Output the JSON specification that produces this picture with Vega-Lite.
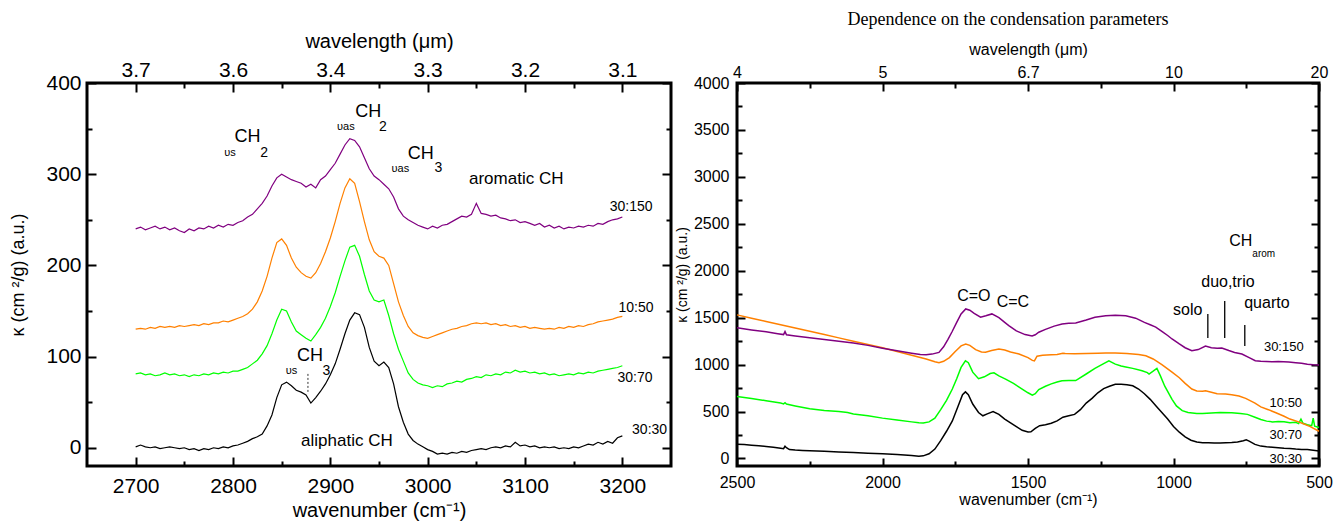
{
"$schema": "https://vega.github.io/schema/vega-lite/v6.json",
"padding": {"left": 8, "top": 9, "right": 0, "bottom": 0},
"background": "white",
"spacing": 66,
"bounds": "flush",
"config": {
  "view": {"stroke": "black", "strokeWidth": 3},
  "axis": {"domain": false, "grid": false, "tickColor": "black", "tickWidth": 2, "labelColor": "black", "titleColor": "black", "labelFont": "Liberation Sans", "titleFont": "Liberation Sans", "titleFontWeight": "normal", "labelFlush": false, "labelOverlap": false, "format": "d"},
  "text": {"font": "Liberation Sans", "color": "black"}
},
"datasets": {
"left": [
{"s":"30:30","x":2700,"y":1},{"s":"30:30","x":2705,"y":3},{"s":"30:30","x":2710,"y":1},{"s":"30:30","x":2715,"y":0},{"s":"30:30","x":2720,"y":1},{"s":"30:30","x":2725,"y":-1},{"s":"30:30","x":2730,"y":0},{"s":"30:30","x":2735,"y":1},{"s":"30:30","x":2740,"y":0},{"s":"30:30","x":2745,"y":-1},{"s":"30:30","x":2750,"y":0},{"s":"30:30","x":2755,"y":-2},{"s":"30:30","x":2760,"y":-1},{"s":"30:30","x":2765,"y":-3},{"s":"30:30","x":2770,"y":-1},{"s":"30:30","x":2775,"y":-2},{"s":"30:30","x":2780,"y":0},{"s":"30:30","x":2785,"y":-1},{"s":"30:30","x":2790,"y":1},{"s":"30:30","x":2795,"y":0},{"s":"30:30","x":2800,"y":2},{"s":"30:30","x":2805,"y":3},{"s":"30:30","x":2810,"y":5},{"s":"30:30","x":2815,"y":7},{"s":"30:30","x":2820,"y":10},{"s":"30:30","x":2825,"y":12},{"s":"30:30","x":2830,"y":15},{"s":"30:30","x":2835,"y":24},{"s":"30:30","x":2840,"y":36},{"s":"30:30","x":2845,"y":55},{"s":"30:30","x":2850,"y":69},{"s":"30:30","x":2855,"y":72},{"s":"30:30","x":2860,"y":68},{"s":"30:30","x":2865,"y":63},{"s":"30:30","x":2870,"y":61},{"s":"30:30","x":2875,"y":58},{"s":"30:30","x":2880,"y":49},{"s":"30:30","x":2885,"y":55},{"s":"30:30","x":2890,"y":62},{"s":"30:30","x":2895,"y":70},{"s":"30:30","x":2900,"y":80},{"s":"30:30","x":2905,"y":92},{"s":"30:30","x":2910,"y":108},{"s":"30:30","x":2915,"y":125},{"s":"30:30","x":2920,"y":140},{"s":"30:30","x":2925,"y":148},{"s":"30:30","x":2930,"y":146},{"s":"30:30","x":2935,"y":132},{"s":"30:30","x":2940,"y":110},{"s":"30:30","x":2945,"y":95},{"s":"30:30","x":2950,"y":90},{"s":"30:30","x":2955,"y":94},{"s":"30:30","x":2960,"y":88},{"s":"30:30","x":2965,"y":70},{"s":"30:30","x":2970,"y":45},{"s":"30:30","x":2975,"y":28},{"s":"30:30","x":2980,"y":15},{"s":"30:30","x":2985,"y":8},{"s":"30:30","x":2990,"y":4},{"s":"30:30","x":2995,"y":1},{"s":"30:30","x":3000,"y":-2},{"s":"30:30","x":3005,"y":-4},{"s":"30:30","x":3010,"y":-7},{"s":"30:30","x":3015,"y":-6},{"s":"30:30","x":3020,"y":-7},{"s":"30:30","x":3025,"y":-5},{"s":"30:30","x":3030,"y":-6},{"s":"30:30","x":3035,"y":-4},{"s":"30:30","x":3040,"y":-5},{"s":"30:30","x":3045,"y":-3},{"s":"30:30","x":3050,"y":-2},{"s":"30:30","x":3055,"y":-1},{"s":"30:30","x":3060,"y":-2},{"s":"30:30","x":3065,"y":0},{"s":"30:30","x":3070,"y":1},{"s":"30:30","x":3075,"y":0},{"s":"30:30","x":3080,"y":2},{"s":"30:30","x":3085,"y":1},{"s":"30:30","x":3090,"y":6},{"s":"30:30","x":3095,"y":2},{"s":"30:30","x":3100,"y":3},{"s":"30:30","x":3105,"y":1},{"s":"30:30","x":3110,"y":2},{"s":"30:30","x":3115,"y":0},{"s":"30:30","x":3120,"y":1},{"s":"30:30","x":3125,"y":0},{"s":"30:30","x":3130,"y":1},{"s":"30:30","x":3135,"y":-1},{"s":"30:30","x":3140,"y":0},{"s":"30:30","x":3145,"y":-1},{"s":"30:30","x":3150,"y":1},{"s":"30:30","x":3155,"y":0},{"s":"30:30","x":3160,"y":2},{"s":"30:30","x":3165,"y":4},{"s":"30:30","x":3170,"y":3},{"s":"30:30","x":3175,"y":6},{"s":"30:30","x":3180,"y":4},{"s":"30:30","x":3185,"y":7},{"s":"30:30","x":3190,"y":5},{"s":"30:30","x":3195,"y":11},{"s":"30:30","x":3200,"y":13},
{"s":"30:70","x":2700,"y":81},{"s":"30:70","x":2705,"y":82},{"s":"30:70","x":2710,"y":80},{"s":"30:70","x":2715,"y":81},{"s":"30:70","x":2720,"y":79},{"s":"30:70","x":2725,"y":80},{"s":"30:70","x":2730,"y":82},{"s":"30:70","x":2735,"y":80},{"s":"30:70","x":2740,"y":81},{"s":"30:70","x":2745,"y":79},{"s":"30:70","x":2750,"y":80},{"s":"30:70","x":2755,"y":78},{"s":"30:70","x":2760,"y":80},{"s":"30:70","x":2765,"y":79},{"s":"30:70","x":2770,"y":81},{"s":"30:70","x":2775,"y":80},{"s":"30:70","x":2780,"y":82},{"s":"30:70","x":2785,"y":81},{"s":"30:70","x":2790,"y":83},{"s":"30:70","x":2795,"y":82},{"s":"30:70","x":2800,"y":84},{"s":"30:70","x":2805,"y":84},{"s":"30:70","x":2810,"y":86},{"s":"30:70","x":2815,"y":88},{"s":"30:70","x":2820,"y":92},{"s":"30:70","x":2825,"y":96},{"s":"30:70","x":2830,"y":103},{"s":"30:70","x":2835,"y":112},{"s":"30:70","x":2840,"y":125},{"s":"30:70","x":2845,"y":140},{"s":"30:70","x":2850,"y":152},{"s":"30:70","x":2855,"y":150},{"s":"30:70","x":2860,"y":138},{"s":"30:70","x":2865,"y":128},{"s":"30:70","x":2870,"y":124},{"s":"30:70","x":2875,"y":120},{"s":"30:70","x":2880,"y":117},{"s":"30:70","x":2885,"y":124},{"s":"30:70","x":2890,"y":132},{"s":"30:70","x":2895,"y":142},{"s":"30:70","x":2900,"y":155},{"s":"30:70","x":2905,"y":170},{"s":"30:70","x":2910,"y":188},{"s":"30:70","x":2915,"y":205},{"s":"30:70","x":2920,"y":220},{"s":"30:70","x":2925,"y":222},{"s":"30:70","x":2930,"y":210},{"s":"30:70","x":2935,"y":190},{"s":"30:70","x":2940,"y":172},{"s":"30:70","x":2945,"y":162},{"s":"30:70","x":2950,"y":160},{"s":"30:70","x":2955,"y":162},{"s":"30:70","x":2960,"y":145},{"s":"30:70","x":2965,"y":125},{"s":"30:70","x":2970,"y":108},{"s":"30:70","x":2975,"y":95},{"s":"30:70","x":2980,"y":82},{"s":"30:70","x":2985,"y":75},{"s":"30:70","x":2990,"y":71},{"s":"30:70","x":2995,"y":69},{"s":"30:70","x":3000,"y":68},{"s":"30:70","x":3005,"y":66},{"s":"30:70","x":3010,"y":68},{"s":"30:70","x":3015,"y":67},{"s":"30:70","x":3020,"y":70},{"s":"30:70","x":3025,"y":71},{"s":"30:70","x":3030,"y":73},{"s":"30:70","x":3035,"y":72},{"s":"30:70","x":3040,"y":75},{"s":"30:70","x":3045,"y":76},{"s":"30:70","x":3050,"y":78},{"s":"30:70","x":3055,"y":77},{"s":"30:70","x":3060,"y":80},{"s":"30:70","x":3065,"y":79},{"s":"30:70","x":3070,"y":81},{"s":"30:70","x":3075,"y":80},{"s":"30:70","x":3080,"y":83},{"s":"30:70","x":3085,"y":82},{"s":"30:70","x":3090,"y":85},{"s":"30:70","x":3095,"y":83},{"s":"30:70","x":3100,"y":84},{"s":"30:70","x":3105,"y":82},{"s":"30:70","x":3110,"y":83},{"s":"30:70","x":3115,"y":81},{"s":"30:70","x":3120,"y":82},{"s":"30:70","x":3125,"y":80},{"s":"30:70","x":3130,"y":81},{"s":"30:70","x":3135,"y":79},{"s":"30:70","x":3140,"y":80},{"s":"30:70","x":3145,"y":81},{"s":"30:70","x":3150,"y":80},{"s":"30:70","x":3155,"y":82},{"s":"30:70","x":3160,"y":81},{"s":"30:70","x":3165,"y":83},{"s":"30:70","x":3170,"y":82},{"s":"30:70","x":3175,"y":84},{"s":"30:70","x":3180,"y":85},{"s":"30:70","x":3185,"y":86},{"s":"30:70","x":3190,"y":87},{"s":"30:70","x":3195,"y":88},{"s":"30:70","x":3200,"y":90},
{"s":"10:50","x":2700,"y":130},{"s":"10:50","x":2705,"y":131},{"s":"10:50","x":2710,"y":130},{"s":"10:50","x":2715,"y":132},{"s":"10:50","x":2720,"y":131},{"s":"10:50","x":2725,"y":133},{"s":"10:50","x":2730,"y":132},{"s":"10:50","x":2735,"y":133},{"s":"10:50","x":2740,"y":132},{"s":"10:50","x":2745,"y":134},{"s":"10:50","x":2750,"y":133},{"s":"10:50","x":2755,"y":134},{"s":"10:50","x":2760,"y":135},{"s":"10:50","x":2765,"y":134},{"s":"10:50","x":2770,"y":136},{"s":"10:50","x":2775,"y":135},{"s":"10:50","x":2780,"y":137},{"s":"10:50","x":2785,"y":137},{"s":"10:50","x":2790,"y":139},{"s":"10:50","x":2795,"y":138},{"s":"10:50","x":2800,"y":140},{"s":"10:50","x":2805,"y":142},{"s":"10:50","x":2810,"y":144},{"s":"10:50","x":2815,"y":147},{"s":"10:50","x":2820,"y":152},{"s":"10:50","x":2825,"y":160},{"s":"10:50","x":2830,"y":172},{"s":"10:50","x":2835,"y":188},{"s":"10:50","x":2840,"y":208},{"s":"10:50","x":2845,"y":225},{"s":"10:50","x":2850,"y":229},{"s":"10:50","x":2855,"y":222},{"s":"10:50","x":2860,"y":208},{"s":"10:50","x":2865,"y":198},{"s":"10:50","x":2870,"y":192},{"s":"10:50","x":2875,"y":188},{"s":"10:50","x":2880,"y":186},{"s":"10:50","x":2885,"y":192},{"s":"10:50","x":2890,"y":202},{"s":"10:50","x":2895,"y":215},{"s":"10:50","x":2900,"y":230},{"s":"10:50","x":2905,"y":248},{"s":"10:50","x":2910,"y":268},{"s":"10:50","x":2915,"y":285},{"s":"10:50","x":2920,"y":295},{"s":"10:50","x":2925,"y":290},{"s":"10:50","x":2930,"y":270},{"s":"10:50","x":2935,"y":248},{"s":"10:50","x":2940,"y":228},{"s":"10:50","x":2945,"y":215},{"s":"10:50","x":2950,"y":210},{"s":"10:50","x":2955,"y":208},{"s":"10:50","x":2960,"y":200},{"s":"10:50","x":2965,"y":180},{"s":"10:50","x":2970,"y":160},{"s":"10:50","x":2975,"y":145},{"s":"10:50","x":2980,"y":133},{"s":"10:50","x":2985,"y":126},{"s":"10:50","x":2990,"y":123},{"s":"10:50","x":2995,"y":121},{"s":"10:50","x":3000,"y":120},{"s":"10:50","x":3005,"y":122},{"s":"10:50","x":3010,"y":124},{"s":"10:50","x":3015,"y":126},{"s":"10:50","x":3020,"y":128},{"s":"10:50","x":3025,"y":130},{"s":"10:50","x":3030,"y":131},{"s":"10:50","x":3035,"y":133},{"s":"10:50","x":3040,"y":134},{"s":"10:50","x":3045,"y":136},{"s":"10:50","x":3050,"y":137},{"s":"10:50","x":3055,"y":136},{"s":"10:50","x":3060,"y":137},{"s":"10:50","x":3065,"y":135},{"s":"10:50","x":3070,"y":136},{"s":"10:50","x":3075,"y":134},{"s":"10:50","x":3080,"y":135},{"s":"10:50","x":3085,"y":133},{"s":"10:50","x":3090,"y":134},{"s":"10:50","x":3095,"y":132},{"s":"10:50","x":3100,"y":133},{"s":"10:50","x":3105,"y":131},{"s":"10:50","x":3110,"y":132},{"s":"10:50","x":3115,"y":131},{"s":"10:50","x":3120,"y":130},{"s":"10:50","x":3125,"y":131},{"s":"10:50","x":3130,"y":130},{"s":"10:50","x":3135,"y":132},{"s":"10:50","x":3140,"y":131},{"s":"10:50","x":3145,"y":133},{"s":"10:50","x":3150,"y":132},{"s":"10:50","x":3155,"y":134},{"s":"10:50","x":3160,"y":133},{"s":"10:50","x":3165,"y":135},{"s":"10:50","x":3170,"y":136},{"s":"10:50","x":3175,"y":138},{"s":"10:50","x":3180,"y":139},{"s":"10:50","x":3185,"y":140},{"s":"10:50","x":3190,"y":141},{"s":"10:50","x":3195,"y":143},{"s":"10:50","x":3200,"y":144},
{"s":"30:150","x":2700,"y":240},{"s":"30:150","x":2705,"y":242},{"s":"30:150","x":2710,"y":239},{"s":"30:150","x":2715,"y":241},{"s":"30:150","x":2720,"y":243},{"s":"30:150","x":2725,"y":240},{"s":"30:150","x":2730,"y":242},{"s":"30:150","x":2735,"y":239},{"s":"30:150","x":2740,"y":241},{"s":"30:150","x":2745,"y":238},{"s":"30:150","x":2750,"y":236},{"s":"30:150","x":2755,"y":240},{"s":"30:150","x":2760,"y":238},{"s":"30:150","x":2765,"y":241},{"s":"30:150","x":2770,"y":240},{"s":"30:150","x":2775,"y":243},{"s":"30:150","x":2780,"y":241},{"s":"30:150","x":2785,"y":244},{"s":"30:150","x":2790,"y":242},{"s":"30:150","x":2795,"y":245},{"s":"30:150","x":2800,"y":244},{"s":"30:150","x":2805,"y":247},{"s":"30:150","x":2810,"y":249},{"s":"30:150","x":2815,"y":253},{"s":"30:150","x":2820,"y":256},{"s":"30:150","x":2825,"y":262},{"s":"30:150","x":2830,"y":268},{"s":"30:150","x":2835,"y":276},{"s":"30:150","x":2840,"y":287},{"s":"30:150","x":2845,"y":296},{"s":"30:150","x":2850,"y":300},{"s":"30:150","x":2855,"y":297},{"s":"30:150","x":2860,"y":294},{"s":"30:150","x":2865,"y":292},{"s":"30:150","x":2870,"y":290},{"s":"30:150","x":2875,"y":286},{"s":"30:150","x":2880,"y":289},{"s":"30:150","x":2885,"y":285},{"s":"30:150","x":2890,"y":294},{"s":"30:150","x":2895,"y":298},{"s":"30:150","x":2900,"y":305},{"s":"30:150","x":2905,"y":312},{"s":"30:150","x":2910,"y":322},{"s":"30:150","x":2915,"y":332},{"s":"30:150","x":2920,"y":339},{"s":"30:150","x":2925,"y":337},{"s":"30:150","x":2930,"y":330},{"s":"30:150","x":2935,"y":318},{"s":"30:150","x":2940,"y":306},{"s":"30:150","x":2945,"y":298},{"s":"30:150","x":2950,"y":294},{"s":"30:150","x":2955,"y":289},{"s":"30:150","x":2960,"y":284},{"s":"30:150","x":2965,"y":275},{"s":"30:150","x":2970,"y":262},{"s":"30:150","x":2975,"y":254},{"s":"30:150","x":2980,"y":250},{"s":"30:150","x":2985,"y":247},{"s":"30:150","x":2990,"y":244},{"s":"30:150","x":2995,"y":242},{"s":"30:150","x":3000,"y":240},{"s":"30:150","x":3005,"y":243},{"s":"30:150","x":3010,"y":241},{"s":"30:150","x":3015,"y":244},{"s":"30:150","x":3020,"y":245},{"s":"30:150","x":3025,"y":248},{"s":"30:150","x":3030,"y":251},{"s":"30:150","x":3035,"y":254},{"s":"30:150","x":3040,"y":253},{"s":"30:150","x":3045,"y":256},{"s":"30:150","x":3050,"y":268},{"s":"30:150","x":3055,"y":257},{"s":"30:150","x":3060,"y":256},{"s":"30:150","x":3065,"y":254},{"s":"30:150","x":3070,"y":255},{"s":"30:150","x":3075,"y":252},{"s":"30:150","x":3080,"y":251},{"s":"30:150","x":3085,"y":249},{"s":"30:150","x":3090,"y":250},{"s":"30:150","x":3095,"y":247},{"s":"30:150","x":3100,"y":248},{"s":"30:150","x":3105,"y":246},{"s":"30:150","x":3110,"y":244},{"s":"30:150","x":3115,"y":246},{"s":"30:150","x":3120,"y":242},{"s":"30:150","x":3125,"y":244},{"s":"30:150","x":3130,"y":241},{"s":"30:150","x":3135,"y":243},{"s":"30:150","x":3140,"y":240},{"s":"30:150","x":3145,"y":242},{"s":"30:150","x":3150,"y":241},{"s":"30:150","x":3155,"y":243},{"s":"30:150","x":3160,"y":242},{"s":"30:150","x":3165,"y":244},{"s":"30:150","x":3170,"y":243},{"s":"30:150","x":3175,"y":246},{"s":"30:150","x":3180,"y":245},{"s":"30:150","x":3185,"y":248},{"s":"30:150","x":3190,"y":250},{"s":"30:150","x":3195,"y":251},{"s":"30:150","x":3200,"y":253}
],
"right": [
{"s":"30:30","x":2500,"y":152},{"s":"30:30","x":2475,"y":148},{"s":"30:30","x":2450,"y":142},{"s":"30:30","x":2425,"y":135},{"s":"30:30","x":2400,"y":128},{"s":"30:30","x":2375,"y":120},{"s":"30:30","x":2350,"y":110},{"s":"30:30","x":2340,"y":105},{"s":"30:30","x":2335,"y":130},{"s":"30:30","x":2330,"y":115},{"s":"30:30","x":2320,"y":95},{"s":"30:30","x":2300,"y":90},{"s":"30:30","x":2275,"y":86},{"s":"30:30","x":2250,"y":82},{"s":"30:30","x":2200,"y":76},{"s":"30:30","x":2150,"y":70},{"s":"30:30","x":2100,"y":63},{"s":"30:30","x":2050,"y":57},{"s":"30:30","x":2000,"y":50},{"s":"30:30","x":1950,"y":42},{"s":"30:30","x":1900,"y":32},{"s":"30:30","x":1875,"y":25},{"s":"30:30","x":1860,"y":28},{"s":"30:30","x":1840,"y":50},{"s":"30:30","x":1820,"y":100},{"s":"30:30","x":1800,"y":190},{"s":"30:30","x":1780,"y":290},{"s":"30:30","x":1760,"y":400},{"s":"30:30","x":1740,"y":560},{"s":"30:30","x":1725,"y":680},{"s":"30:30","x":1715,"y":710},{"s":"30:30","x":1705,"y":680},{"s":"30:30","x":1690,"y":580},{"s":"30:30","x":1670,"y":490},{"s":"30:30","x":1655,"y":455},{"s":"30:30","x":1640,"y":475},{"s":"30:30","x":1620,"y":500},{"s":"30:30","x":1600,"y":470},{"s":"30:30","x":1580,"y":420},{"s":"30:30","x":1560,"y":380},{"s":"30:30","x":1540,"y":340},{"s":"30:30","x":1520,"y":300},{"s":"30:30","x":1500,"y":282},{"s":"30:30","x":1490,"y":285},{"s":"30:30","x":1475,"y":320},{"s":"30:30","x":1460,"y":350},{"s":"30:30","x":1440,"y":360},{"s":"30:30","x":1420,"y":375},{"s":"30:30","x":1400,"y":400},{"s":"30:30","x":1380,"y":440},{"s":"30:30","x":1360,"y":455},{"s":"30:30","x":1340,"y":470},{"s":"30:30","x":1320,"y":520},{"s":"30:30","x":1300,"y":590},{"s":"30:30","x":1280,"y":640},{"s":"30:30","x":1260,"y":700},{"s":"30:30","x":1240,"y":745},{"s":"30:30","x":1220,"y":770},{"s":"30:30","x":1200,"y":790},{"s":"30:30","x":1180,"y":790},{"s":"30:30","x":1160,"y":785},{"s":"30:30","x":1140,"y":775},{"s":"30:30","x":1120,"y":740},{"s":"30:30","x":1100,"y":690},{"s":"30:30","x":1080,"y":630},{"s":"30:30","x":1060,"y":560},{"s":"30:30","x":1040,"y":490},{"s":"30:30","x":1020,"y":420},{"s":"30:30","x":1000,"y":340},{"s":"30:30","x":980,"y":280},{"s":"30:30","x":960,"y":230},{"s":"30:30","x":940,"y":195},{"s":"30:30","x":920,"y":175},{"s":"30:30","x":900,"y":168},{"s":"30:30","x":880,"y":168},{"s":"30:30","x":860,"y":166},{"s":"30:30","x":840,"y":165},{"s":"30:30","x":820,"y":168},{"s":"30:30","x":800,"y":170},{"s":"30:30","x":780,"y":175},{"s":"30:30","x":760,"y":190},{"s":"30:30","x":750,"y":200},{"s":"30:30","x":740,"y":185},{"s":"30:30","x":720,"y":150},{"s":"30:30","x":700,"y":132},{"s":"30:30","x":680,"y":125},{"s":"30:30","x":660,"y":120},{"s":"30:30","x":640,"y":115},{"s":"30:30","x":620,"y":108},{"s":"30:30","x":600,"y":107},{"s":"30:30","x":580,"y":100},{"s":"30:30","x":560,"y":97},{"s":"30:30","x":540,"y":95},{"s":"30:30","x":520,"y":88},{"s":"30:30","x":500,"y":80},
{"s":"30:70","x":2500,"y":660},{"s":"30:70","x":2450,"y":640},{"s":"30:70","x":2400,"y":615},{"s":"30:70","x":2350,"y":590},{"s":"30:70","x":2340,"y":582},{"s":"30:70","x":2335,"y":595},{"s":"30:70","x":2330,"y":580},{"s":"30:70","x":2300,"y":560},{"s":"30:70","x":2250,"y":530},{"s":"30:70","x":2200,"y":510},{"s":"30:70","x":2150,"y":500},{"s":"30:70","x":2120,"y":490},{"s":"30:70","x":2100,"y":475},{"s":"30:70","x":2050,"y":455},{"s":"30:70","x":2000,"y":430},{"s":"30:70","x":1950,"y":410},{"s":"30:70","x":1900,"y":390},{"s":"30:70","x":1875,"y":380},{"s":"30:70","x":1860,"y":378},{"s":"30:70","x":1840,"y":390},{"s":"30:70","x":1820,"y":430},{"s":"30:70","x":1800,"y":520},{"s":"30:70","x":1780,"y":620},{"s":"30:70","x":1760,"y":740},{"s":"30:70","x":1745,"y":850},{"s":"30:70","x":1730,"y":970},{"s":"30:70","x":1715,"y":1040},{"s":"30:70","x":1705,"y":1020},{"s":"30:70","x":1690,"y":920},{"s":"30:70","x":1670,"y":850},{"s":"30:70","x":1650,"y":870},{"s":"30:70","x":1630,"y":905},{"s":"30:70","x":1617,"y":912},{"s":"30:70","x":1600,"y":880},{"s":"30:70","x":1577,"y":845},{"s":"30:70","x":1550,"y":800},{"s":"30:70","x":1520,"y":740},{"s":"30:70","x":1500,"y":700},{"s":"30:70","x":1485,"y":675},{"s":"30:70","x":1475,"y":690},{"s":"30:70","x":1463,"y":735},{"s":"30:70","x":1440,"y":770},{"s":"30:70","x":1420,"y":795},{"s":"30:70","x":1400,"y":815},{"s":"30:70","x":1383,"y":828},{"s":"30:70","x":1360,"y":830},{"s":"30:70","x":1336,"y":830},{"s":"30:70","x":1300,"y":900},{"s":"30:70","x":1270,"y":960},{"s":"30:70","x":1240,"y":1010},{"s":"30:70","x":1222,"y":1040},{"s":"30:70","x":1200,"y":1005},{"s":"30:70","x":1180,"y":985},{"s":"30:70","x":1164,"y":975},{"s":"30:70","x":1140,"y":960},{"s":"30:70","x":1108,"y":934},{"s":"30:70","x":1090,"y":915},{"s":"30:70","x":1084,"y":900},{"s":"30:70","x":1070,"y":930},{"s":"30:70","x":1057,"y":960},{"s":"30:70","x":1045,"y":880},{"s":"30:70","x":1030,"y":770},{"s":"30:70","x":1005,"y":630},{"s":"30:70","x":990,"y":560},{"s":"30:70","x":970,"y":510},{"s":"30:70","x":950,"y":490},{"s":"30:70","x":920,"y":480},{"s":"30:70","x":900,"y":478},{"s":"30:70","x":870,"y":485},{"s":"30:70","x":840,"y":490},{"s":"30:70","x":800,"y":488},{"s":"30:70","x":770,"y":478},{"s":"30:70","x":746,"y":470},{"s":"30:70","x":720,"y":440},{"s":"30:70","x":700,"y":415},{"s":"30:70","x":680,"y":398},{"s":"30:70","x":660,"y":390},{"s":"30:70","x":640,"y":395},{"s":"30:70","x":620,"y":392},{"s":"30:70","x":600,"y":380},{"s":"30:70","x":580,"y":385},{"s":"30:70","x":570,"y":372},{"s":"30:70","x":562,"y":420},{"s":"30:70","x":555,"y":375},{"s":"30:70","x":540,"y":360},{"s":"30:70","x":525,"y":350},{"s":"30:70","x":520,"y":430},{"s":"30:70","x":515,"y":345},{"s":"30:70","x":500,"y":330},
{"s":"10:50","x":2500,"y":1530},{"s":"10:50","x":2450,"y":1495},{"s":"10:50","x":2400,"y":1460},{"s":"10:50","x":2350,"y":1425},{"s":"10:50","x":2300,"y":1390},{"s":"10:50","x":2250,"y":1355},{"s":"10:50","x":2200,"y":1320},{"s":"10:50","x":2150,"y":1285},{"s":"10:50","x":2100,"y":1250},{"s":"10:50","x":2050,"y":1215},{"s":"10:50","x":2000,"y":1180},{"s":"10:50","x":1950,"y":1140},{"s":"10:50","x":1900,"y":1100},{"s":"10:50","x":1850,"y":1060},{"s":"10:50","x":1820,"y":1030},{"s":"10:50","x":1806,"y":1020},{"s":"10:50","x":1790,"y":1035},{"s":"10:50","x":1770,"y":1075},{"s":"10:50","x":1750,"y":1140},{"s":"10:50","x":1730,"y":1200},{"s":"10:50","x":1714,"y":1220},{"s":"10:50","x":1700,"y":1205},{"s":"10:50","x":1680,"y":1160},{"s":"10:50","x":1660,"y":1135},{"s":"10:50","x":1646,"y":1133},{"s":"10:50","x":1625,"y":1150},{"s":"10:50","x":1600,"y":1165},{"s":"10:50","x":1580,"y":1155},{"s":"10:50","x":1560,"y":1135},{"s":"10:50","x":1531,"y":1113},{"s":"10:50","x":1500,"y":1075},{"s":"10:50","x":1485,"y":1045},{"s":"10:50","x":1478,"y":1040},{"s":"10:50","x":1469,"y":1090},{"s":"10:50","x":1450,"y":1100},{"s":"10:50","x":1420,"y":1105},{"s":"10:50","x":1400,"y":1108},{"s":"10:50","x":1380,"y":1120},{"s":"10:50","x":1372,"y":1118},{"s":"10:50","x":1340,"y":1115},{"s":"10:50","x":1300,"y":1118},{"s":"10:50","x":1260,"y":1120},{"s":"10:50","x":1233,"y":1123},{"s":"10:50","x":1200,"y":1123},{"s":"10:50","x":1160,"y":1118},{"s":"10:50","x":1120,"y":1108},{"s":"10:50","x":1095,"y":1095},{"s":"10:50","x":1070,"y":1060},{"s":"10:50","x":1040,"y":1000},{"s":"10:50","x":1005,"y":920},{"s":"10:50","x":980,"y":860},{"s":"10:50","x":960,"y":800},{"s":"10:50","x":937,"y":740},{"s":"10:50","x":920,"y":720},{"s":"10:50","x":900,"y":716},{"s":"10:50","x":890,"y":721},{"s":"10:50","x":870,"y":705},{"s":"10:50","x":850,"y":690},{"s":"10:50","x":821,"y":686},{"s":"10:50","x":800,"y":680},{"s":"10:50","x":775,"y":665},{"s":"10:50","x":752,"y":640},{"s":"10:50","x":720,"y":590},{"s":"10:50","x":700,"y":550},{"s":"10:50","x":674,"y":520},{"s":"10:50","x":650,"y":490},{"s":"10:50","x":620,"y":450},{"s":"10:50","x":600,"y":420},{"s":"10:50","x":570,"y":390},{"s":"10:50","x":558,"y":375},{"s":"10:50","x":530,"y":340},{"s":"10:50","x":500,"y":290},
{"s":"30:150","x":2500,"y":1392},{"s":"30:150","x":2450,"y":1370},{"s":"30:150","x":2400,"y":1350},{"s":"30:150","x":2360,"y":1330},{"s":"30:150","x":2340,"y":1320},{"s":"30:150","x":2335,"y":1352},{"s":"30:150","x":2330,"y":1318},{"s":"30:150","x":2300,"y":1305},{"s":"30:150","x":2250,"y":1285},{"s":"30:150","x":2200,"y":1268},{"s":"30:150","x":2150,"y":1250},{"s":"30:150","x":2100,"y":1230},{"s":"30:150","x":2050,"y":1205},{"s":"30:150","x":2000,"y":1175},{"s":"30:150","x":1950,"y":1148},{"s":"30:150","x":1900,"y":1122},{"s":"30:150","x":1870,"y":1108},{"s":"30:150","x":1850,"y":1105},{"s":"30:150","x":1830,"y":1112},{"s":"30:150","x":1806,"y":1130},{"s":"30:150","x":1790,"y":1190},{"s":"30:150","x":1775,"y":1270},{"s":"30:150","x":1761,"y":1350},{"s":"30:150","x":1745,"y":1450},{"s":"30:150","x":1730,"y":1540},{"s":"30:150","x":1714,"y":1593},{"s":"30:150","x":1700,"y":1580},{"s":"30:150","x":1685,"y":1545},{"s":"30:150","x":1663,"y":1505},{"s":"30:150","x":1645,"y":1520},{"s":"30:150","x":1624,"y":1540},{"s":"30:150","x":1600,"y":1500},{"s":"30:150","x":1580,"y":1450},{"s":"30:150","x":1566,"y":1415},{"s":"30:150","x":1540,"y":1360},{"s":"30:150","x":1510,"y":1320},{"s":"30:150","x":1486,"y":1305},{"s":"30:150","x":1475,"y":1318},{"s":"30:150","x":1463,"y":1345},{"s":"30:150","x":1440,"y":1375},{"s":"30:150","x":1410,"y":1410},{"s":"30:150","x":1383,"y":1433},{"s":"30:150","x":1360,"y":1440},{"s":"30:150","x":1336,"y":1443},{"s":"30:150","x":1300,"y":1475},{"s":"30:150","x":1270,"y":1505},{"s":"30:150","x":1233,"y":1521},{"s":"30:150","x":1200,"y":1525},{"s":"30:150","x":1164,"y":1521},{"s":"30:150","x":1130,"y":1495},{"s":"30:150","x":1100,"y":1450},{"s":"30:150","x":1080,"y":1425},{"s":"30:150","x":1061,"y":1400},{"s":"30:150","x":1040,"y":1355},{"s":"30:150","x":1020,"y":1310},{"s":"30:150","x":1005,"y":1273},{"s":"30:150","x":980,"y":1220},{"s":"30:150","x":960,"y":1180},{"s":"30:150","x":937,"y":1148},{"s":"30:150","x":915,"y":1160},{"s":"30:150","x":890,"y":1198},{"s":"30:150","x":870,"y":1180},{"s":"30:150","x":850,"y":1175},{"s":"30:150","x":834,"y":1176},{"s":"30:150","x":810,"y":1150},{"s":"30:150","x":790,"y":1130},{"s":"30:150","x":765,"y":1113},{"s":"30:150","x":740,"y":1075},{"s":"30:150","x":719,"y":1041},{"s":"30:150","x":700,"y":1035},{"s":"30:150","x":660,"y":1030},{"s":"30:150","x":640,"y":1032},{"s":"30:150","x":604,"y":1027},{"s":"30:150","x":580,"y":1020},{"s":"30:150","x":560,"y":1015},{"s":"30:150","x":540,"y":1005},{"s":"30:150","x":520,"y":998},{"s":"30:150","x":500,"y":995}
]
},
"hconcat": [
{
  "width": 584, "height": 383,
  "resolve": {"axis": {"x": "independent", "y": "independent"}},
  "layer": [
    {
      "data": {"name": "left"},
      "mark": {"type": "line", "strokeWidth": 1.2},
      "encoding": {
        "x": {"field": "x", "type": "quantitative", "scale": {"domain": [2650, 3250], "nice": false, "zero": false},
              "axis": {"orient": "bottom", "values": [2700, 2800, 2900, 3000, 3100, 3200], "tickSize": -9, "labelFontSize": 21, "labelPadding": 18, "title": "wavenumber (cm⁻¹)", "titleFontSize": 20, "titlePadding": 4}},
        "y": {"field": "y", "type": "quantitative", "scale": {"domain": [-20, 400], "nice": false, "zero": false},
              "axis": {"orient": "left", "values": [0, 100, 200, 300, 400], "tickSize": -9, "labelFontSize": 21, "labelPadding": 15, "title": "κ (cm ²/g) (a.u.)", "titleFontSize": 18, "titlePadding": 18}},
        "color": {"field": "s", "type": "nominal", "scale": {"domain": ["30:150", "10:50", "30:70", "30:30"], "range": ["#800080", "#ff8000", "#00ff00", "#000000"]}, "legend": null}
      }
    },
    {
      "data": {"values": [{"x": 2815, "y": 341, "t": "CH"}, {"x": 2939, "y": 368, "t": "CH"}, {"x": 2993, "y": 322, "t": "CH"}, {"x": 2879, "y": 101, "t": "CH"}]},
      "mark": {"type": "text", "fontSize": 18, "align": "center", "baseline": "middle"},
      "encoding": {
        "x": {"field": "x", "type": "quantitative", "scale": {"domain": [2650, 3250], "nice": false, "zero": false},
              "axis": {"orient": "top", "values": [2700, 2800, 2900, 3000, 3100, 3200], "tickSize": -9, "labelFontSize": 21, "labelPadding": 12,
                       "labelExpr": "datum.value == 2700 ? '3.7' : datum.value == 2800 ? '3.6' : datum.value == 2900 ? '3.4' : datum.value == 3000 ? '3.3' : datum.value == 3100 ? '3.2' : '3.1'",
                       "title": "wavelength (μm)", "titleFontSize": 20, "titlePadding": 8}},
        "y": {"field": "y", "type": "quantitative", "scale": {"domain": [-20, 400], "nice": false, "zero": false},
              "axis": {"orient": "right", "values": [0, 100, 200, 300, 400], "tickSize": -9, "labels": false, "title": null}},
        "text": {"field": "t", "type": "nominal"}
      }
    },
    {
      "data": {"values": [{"x": 2877, "y": 81, "y2": 59}]},
      "mark": {"type": "rule", "strokeDash": [2, 2], "strokeWidth": 1, "color": "#333333"},
      "encoding": {
        "x": {"field": "x", "type": "quantitative", "scale": {"domain": [2650, 3250], "nice": false, "zero": false},
              "axis": {"orient": "bottom", "values": [2750, 2850, 2950, 3050, 3150], "tickSize": -5, "labels": false, "title": null}},
        "y": {"field": "y", "type": "quantitative", "scale": {"domain": [-20, 400], "nice": false, "zero": false},
              "axis": {"orient": "left", "values": [50, 150, 250, 350], "tickSize": -5, "labels": false, "title": null}},
        "y2": {"field": "y2"}
      }
    },
    {
      "data": {"values": [{"x": 2797, "y": 323, "t": "υs"}, {"x": 2916, "y": 352, "t": "υas"}, {"x": 2972, "y": 306, "t": "υas"}, {"x": 2860, "y": 84, "t": "υs"}]},
      "mark": {"type": "text", "fontSize": 11, "align": "center", "baseline": "middle"},
      "encoding": {
        "x": {"field": "x", "type": "quantitative", "scale": {"domain": [2650, 3250], "nice": false, "zero": false},
              "axis": {"orient": "top", "values": [2750, 2850, 2950, 3050, 3150], "tickSize": -5, "labels": false, "title": null}},
        "y": {"field": "y", "type": "quantitative", "scale": {"domain": [-20, 400], "nice": false, "zero": false},
              "axis": {"orient": "right", "values": [50, 150, 250, 350], "tickSize": -5, "labels": false, "title": null}},
        "text": {"field": "t", "type": "nominal"}
      }
    },
    {
      "data": {"values": [{"x": 2832, "y": 323, "t": "2"}, {"x": 2954, "y": 352, "t": "2"}, {"x": 3011, "y": 307, "t": "3"}, {"x": 2896, "y": 84, "t": "3"}]},
      "mark": {"type": "text", "fontSize": 14, "align": "center", "baseline": "middle"},
      "encoding": {
        "x": {"field": "x", "type": "quantitative", "scale": {"domain": [2650, 3250], "nice": false, "zero": false}, "axis": null},
        "y": {"field": "y", "type": "quantitative", "scale": {"domain": [-20, 400], "nice": false, "zero": false}, "axis": null},
        "text": {"field": "t", "type": "nominal"}
      }
    },
    {
      "data": {"values": [{"x": 3091, "y": 295, "t": "aromatic CH"}, {"x": 2917, "y": 7, "t": "aliphatic CH"}]},
      "mark": {"type": "text", "fontSize": 17, "align": "center", "baseline": "middle"},
      "encoding": {
        "x": {"field": "x", "type": "quantitative", "scale": {"domain": [2650, 3250], "nice": false, "zero": false}, "axis": null},
        "y": {"field": "y", "type": "quantitative", "scale": {"domain": [-20, 400], "nice": false, "zero": false}, "axis": null},
        "text": {"field": "t", "type": "nominal"}
      }
    },
    {
      "data": {"values": [{"x": 3209, "y": 264, "t": "30:150"}, {"x": 3214, "y": 153, "t": "10:50"}, {"x": 3213, "y": 76, "t": "30:70"}, {"x": 3228, "y": 19, "t": "30:30"}]},
      "mark": {"type": "text", "fontSize": 14, "align": "center", "baseline": "middle"},
      "encoding": {
        "x": {"field": "x", "type": "quantitative", "scale": {"domain": [2650, 3250], "nice": false, "zero": false}, "axis": null},
        "y": {"field": "y", "type": "quantitative", "scale": {"domain": [-20, 400], "nice": false, "zero": false}, "axis": null},
        "text": {"field": "t", "type": "nominal"}
      }
    }
  ]
},
{
  "width": 582, "height": 383,
  "title": {"text": "Dependence on the condensation parameters", "font": "Liberation Serif", "fontSize": 18, "fontWeight": "normal", "color": "black", "anchor": "middle", "dx": -20, "offset": 12},
  "resolve": {"axis": {"x": "independent", "y": "independent"}},
  "layer": [
    {
      "data": {"name": "right"},
      "mark": {"type": "line", "strokeWidth": 1.5},
      "encoding": {
        "x": {"field": "x", "type": "quantitative", "scale": {"domain": [500, 2500], "reverse": true, "nice": false, "zero": false},
              "axis": {"orient": "bottom", "values": [2500, 2000, 1500, 1000, 500], "tickSize": -8, "labelFontSize": 16, "labelPadding": 16, "title": "wavenumber (cm⁻¹)", "titleFontSize": 16, "titlePadding": 1}},
        "y": {"field": "y", "type": "quantitative", "scale": {"domain": [-80, 4000], "nice": false, "zero": false},
              "axis": {"orient": "left", "values": [0, 500, 1000, 1500, 2000, 2500, 3000, 3500, 4000], "tickSize": -8, "labelFontSize": 16, "labelPadding": 16, "title": "κ (cm ²/g) (a.u.)", "titleFontSize": 14, "titlePadding": 4}},
        "color": {"field": "s", "type": "nominal", "scale": {"domain": ["30:150", "10:50", "30:70", "30:30"], "range": ["#800080", "#ff8000", "#00ff00", "#000000"]}, "legend": null}
      }
    },
    {
      "data": {"values": [{"x": 1686, "y": 1731, "t": "C=O"}, {"x": 1552, "y": 1667, "t": "C=C"}, {"x": 951, "y": 1582, "t": "solo"}, {"x": 813, "y": 1881, "t": "duo,trio"}, {"x": 679, "y": 1657, "t": "quarto"}, {"x": 769, "y": 2318, "t": "CH"}]},
      "mark": {"type": "text", "fontSize": 16, "align": "center", "baseline": "middle"},
      "encoding": {
        "x": {"field": "x", "type": "quantitative", "scale": {"domain": [500, 2500], "reverse": true, "nice": false, "zero": false},
              "axis": {"orient": "top", "values": [2500, 2000, 1500, 1000, 500], "tickSize": -8, "labelFontSize": 16, "labelPadding": 11,
                       "labelExpr": "datum.value == 2500 ? '4' : datum.value == 2000 ? '5' : datum.value == 1500 ? '6.7' : datum.value == 1000 ? '10' : '20'",
                       "title": "wavelength (μm)", "titleFontSize": 16, "titlePadding": 7}},
        "y": {"field": "y", "type": "quantitative", "scale": {"domain": [-80, 4000], "nice": false, "zero": false},
              "axis": {"orient": "right", "values": [0, 500, 1000, 1500, 2000, 2500, 3000, 3500, 4000], "tickSize": -8, "labels": false, "title": null}},
        "text": {"field": "t", "type": "nominal"}
      }
    },
    {
      "data": {"values": [{"x": 882, "y": 1283, "y2": 1539}, {"x": 824, "y": 1283, "y2": 1678}, {"x": 755, "y": 1198, "y2": 1422}]},
      "mark": {"type": "rule", "strokeWidth": 1.3, "color": "black"},
      "encoding": {
        "x": {"field": "x", "type": "quantitative", "scale": {"domain": [500, 2500], "reverse": true, "nice": false, "zero": false},
              "axis": {"orient": "bottom", "values": [2250, 1750, 1250, 750], "tickSize": -5, "labels": false, "title": null}},
        "y": {"field": "y", "type": "quantitative", "scale": {"domain": [-80, 4000], "nice": false, "zero": false},
              "axis": {"orient": "left", "values": [250, 750, 1250, 1750, 2250, 2750, 3250, 3750], "tickSize": -5, "labels": false, "title": null}},
        "y2": {"field": "y2"}
      }
    },
    {
      "data": {"values": [{"x": 690, "y": 2179, "t": "arom"}]},
      "mark": {"type": "text", "fontSize": 10, "align": "center", "baseline": "middle"},
      "encoding": {
        "x": {"field": "x", "type": "quantitative", "scale": {"domain": [500, 2500], "reverse": true, "nice": false, "zero": false},
              "axis": {"orient": "top", "values": [2250, 1750, 1250, 750], "tickSize": -5, "labels": false, "title": null}},
        "y": {"field": "y", "type": "quantitative", "scale": {"domain": [-80, 4000], "nice": false, "zero": false},
              "axis": {"orient": "right", "values": [250, 750, 1250, 1750, 2250, 2750, 3250, 3750], "tickSize": -5, "labels": false, "title": null}},
        "text": {"field": "t", "type": "nominal"}
      }
    },
    {
      "data": {"values": [{"x": 621, "y": 1187, "t": "30:150"}, {"x": 614, "y": 590, "t": "10:50"}, {"x": 614, "y": 249, "t": "30:70"}, {"x": 614, "y": -7, "t": "30:30"}]},
      "mark": {"type": "text", "fontSize": 13, "align": "center", "baseline": "middle"},
      "encoding": {
        "x": {"field": "x", "type": "quantitative", "scale": {"domain": [500, 2500], "reverse": true, "nice": false, "zero": false}, "axis": null},
        "y": {"field": "y", "type": "quantitative", "scale": {"domain": [-80, 4000], "nice": false, "zero": false}, "axis": null},
        "text": {"field": "t", "type": "nominal"}
      }
    }
  ]
}
]
}
